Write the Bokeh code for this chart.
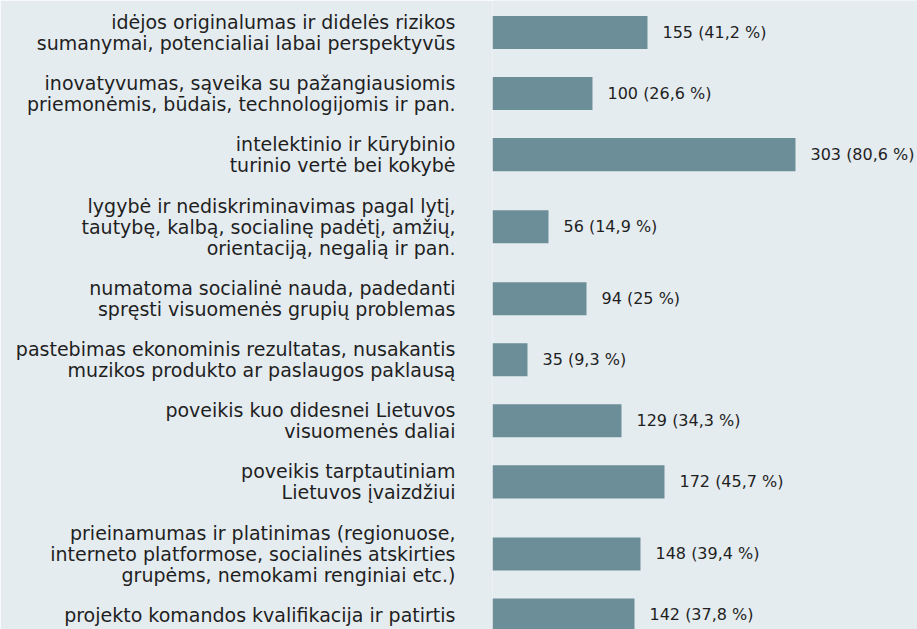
from bokeh.plotting import figure
from bokeh.models import ColumnDataSource, Range1d, FixedTicker
from bokeh.core.properties import value
from bokeh.embed import file_html
from bokeh.resources import INLINE

labels = [
    "idėjos originalumas ir didelės rizikos\nsumanymai, potencialiai labai perspektyvūs",
    "inovatyvumas, sąveika su pažangiausiomis\npriemonėmis, būdais, technologijomis ir pan.",
    "intelektinio ir kūrybinio\nturinio vertė bei kokybė",
    "lygybė ir nediskriminavimas pagal lytį,\ntautybę, kalbą, socialinę padėtį, amžių,\norientaciją, negalią ir pan.",
    "numatoma socialinė nauda, padedanti\nspręsti visuomenės grupių problemas",
    "pastebimas ekonominis rezultatas, nusakantis\nmuzikos produkto ar paslaugos paklausą",
    "poveikis kuo didesnei Lietuvos\nvisuomenės daliai",
    "poveikis tarptautiniam\nLietuvos įvaizdžiui",
    "prieinamumas ir platinimas (regionuose,\ninterneto platformose, socialinės atskirties\ngrupėms, nemokami renginiai etc.)",
    "projekto komandos kvalifikacija ir patirtis",
]
counts = [155, 100, 303, 56, 94, 35, 129, 172, 148, 142]
percents = ["41,2", "26,6", "80,6", "14,9", "25", "9,3", "34,3", "45,7", "39,4", "37,8"]

BG = "#e5ecf0"
BAR = "#6c8e98"
TXT = "#1f1f1f"
FONT = "DejaVu Sans"

# row slots grow with the number of label lines
lines = [l.count("\n") + 1 for l in labels]
slot = [17 + 22 * n for n in lines]
ypos = [0.0]
for i in range(1, len(labels)):
    ypos.append(ypos[-1] + (slot[i - 1] + slot[i]) / 2)

value_text = [f"{c} ({p} %)" for c, p in zip(counts, percents)]

src = ColumnDataSource(dict(y=ypos, v=counts, t=value_text))

p = figure(width=917, height=629, output_backend="svg", toolbar_location=None,
           x_range=Range1d(0, 425), y_range=Range1d(ypos[-1] + 14.5, -32),
           min_border_left=492, min_border_right=0, min_border_top=0, min_border_bottom=0)
p.background_fill_color = BG
p.border_fill_color = BG
p.outline_line_color = None
p.grid.visible = False

p.hbar(y="y", left=0, right="v", height=33, source=src, color=BAR, line_color=None)
p.text(x="v", y="y", text="t", source=src, x_offset=15, text_baseline="middle",
       text_align="left", text_font=value(FONT),
       text_font_size="16px", text_color=TXT)

p.xaxis.visible = False
ya = p.yaxis[0]
ya.ticker = FixedTicker(ticks=ypos)
ya.major_label_overrides = {y: l for y, l in zip(ypos, labels)}
ya.axis_line_color = None
ya.major_tick_line_color = None
ya.minor_tick_line_color = None
ya.major_label_text_font = FONT
ya.major_label_text_font_size = "19px"
ya.major_label_text_color = TXT
ya.major_label_text_line_height = 0.96
ya.major_label_standoff = 31

open("out.html", "w").write(file_html(p, INLINE))
